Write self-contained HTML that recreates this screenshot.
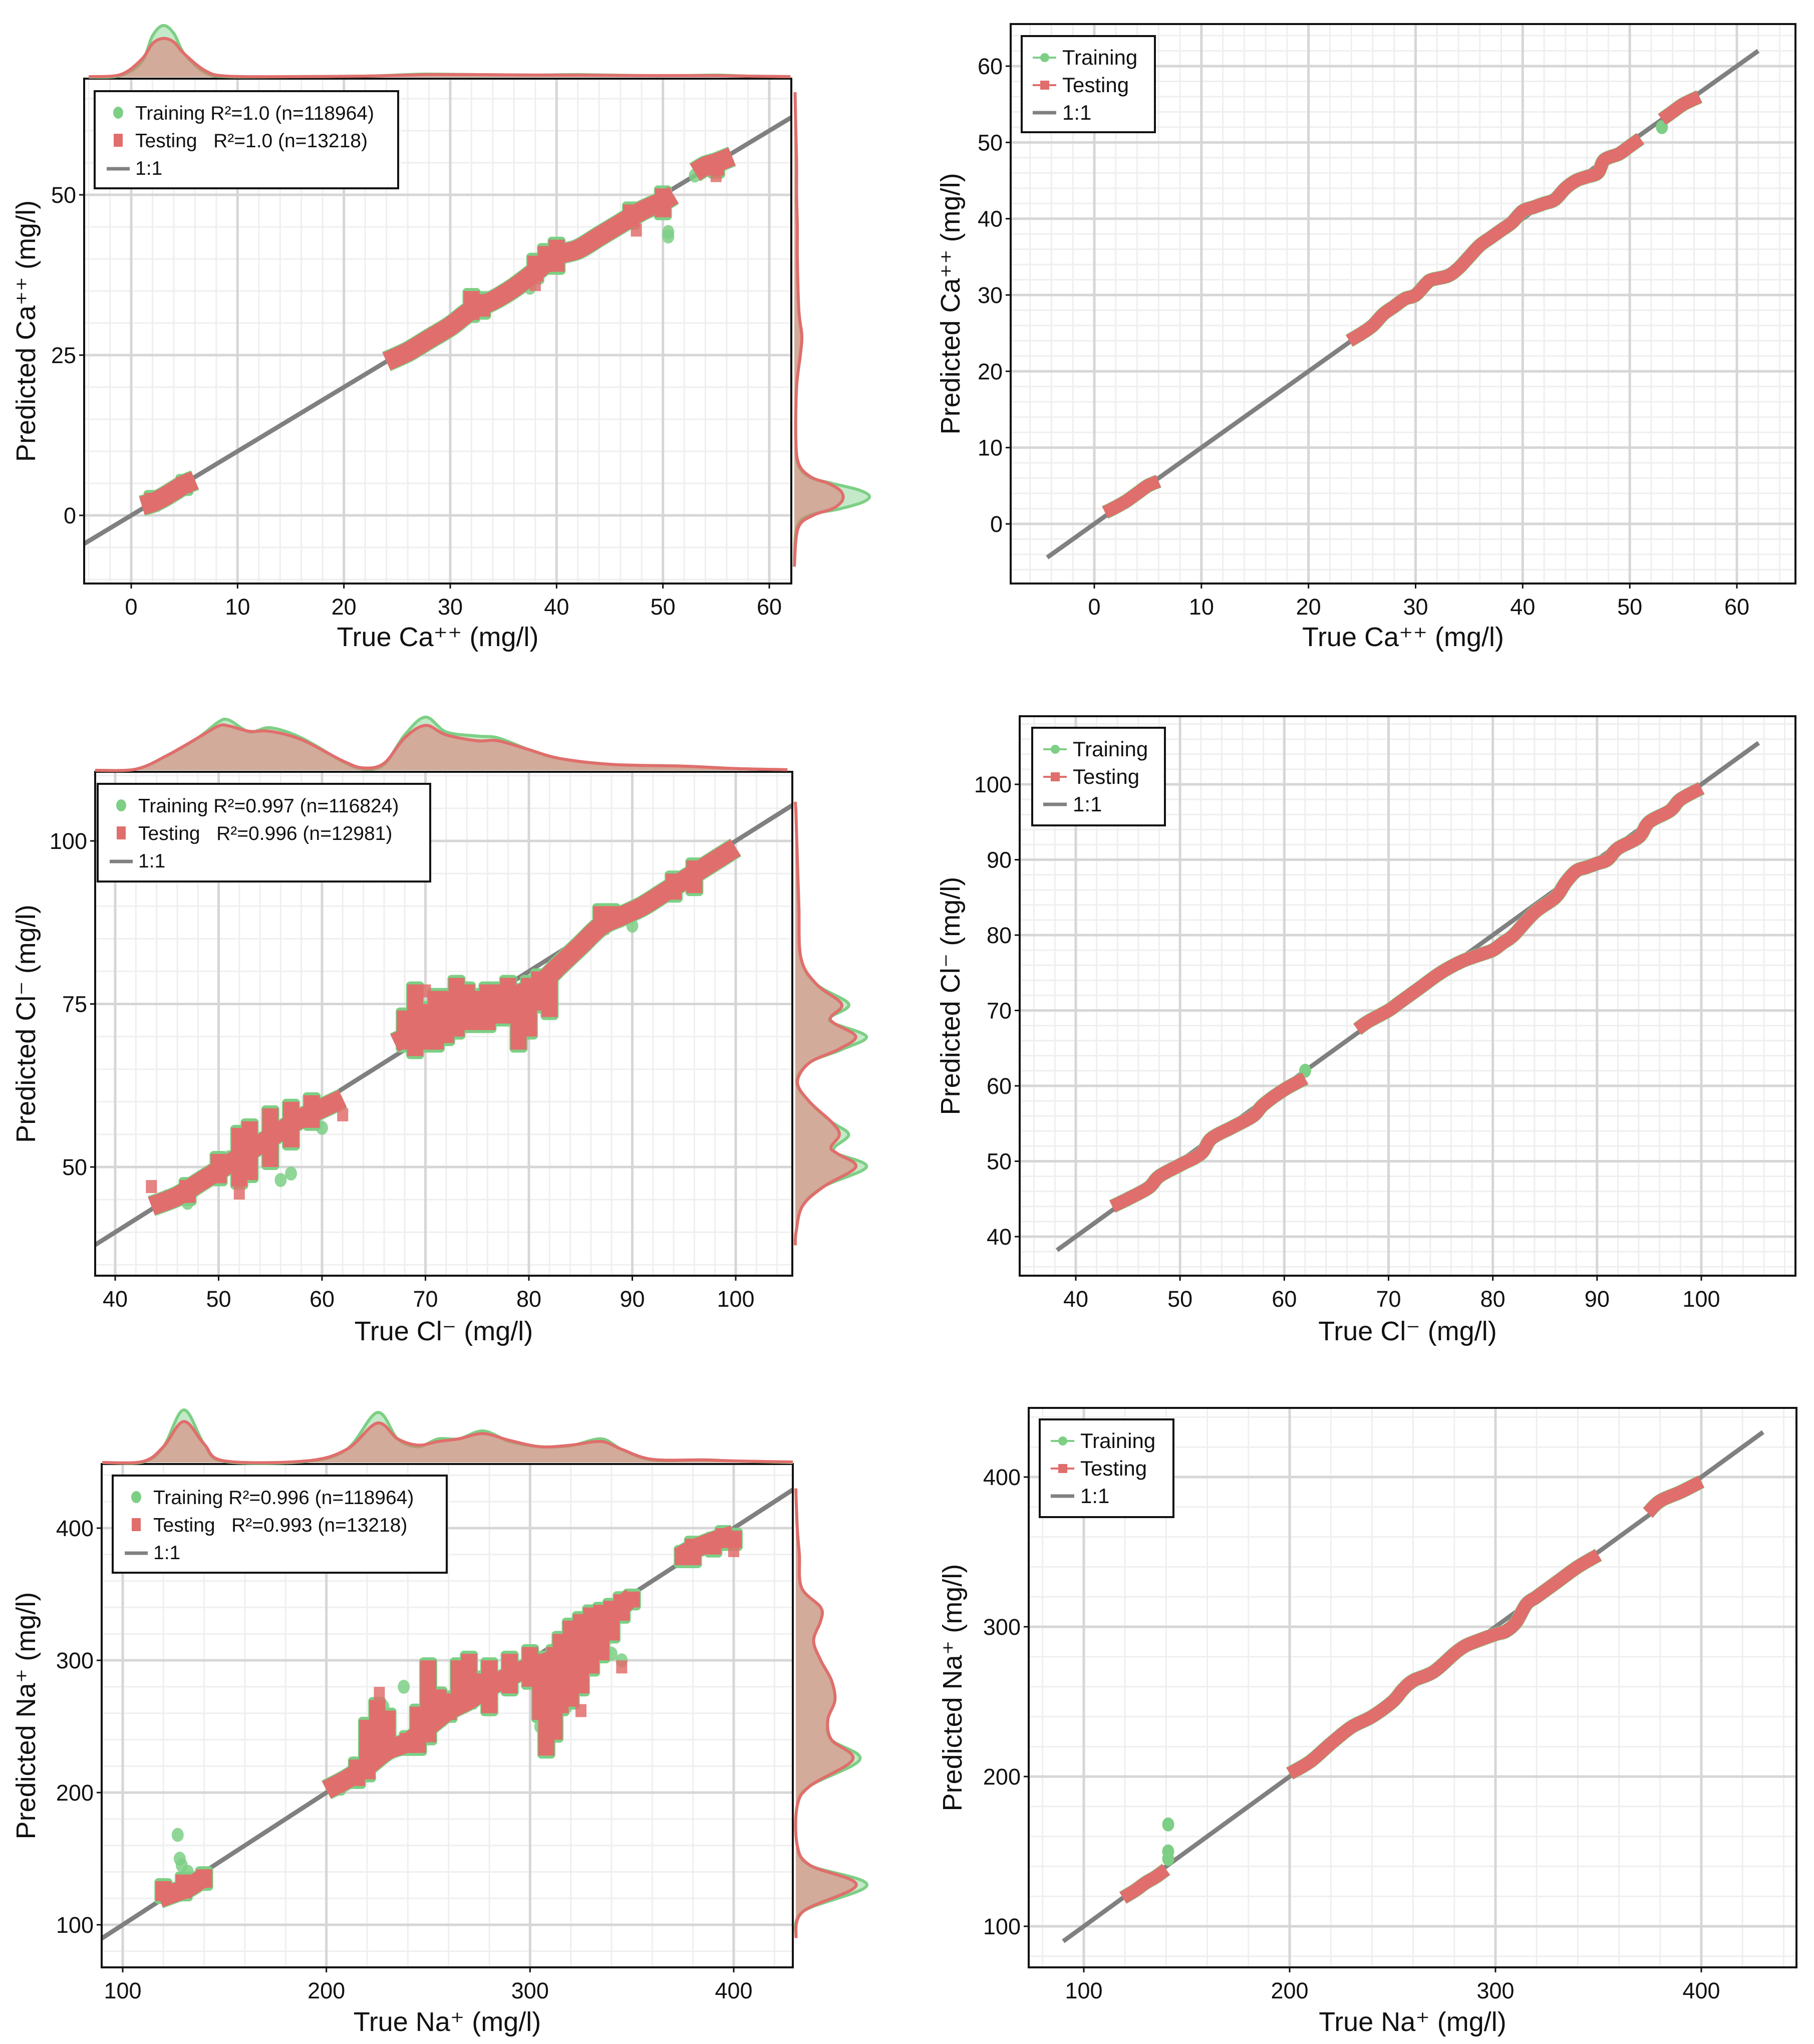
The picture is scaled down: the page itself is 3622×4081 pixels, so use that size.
<!DOCTYPE html>
<html><head><meta charset="utf-8"><style>
html,body{margin:0;padding:0;background:#fff;}
svg{display:block;font-family:"Liberation Sans",sans-serif;}
text{white-space:pre;}
</style></head><body>
<svg id="fig" xmlns="http://www.w3.org/2000/svg" width="3622" height="4081" viewBox="0 0 3622 4081">
<rect x="0" y="0" width="3622" height="4081" fill="#fff"/>
</svg>
<script>
// ---------------- DATA ----------------
const caBandX = [[1,2,3,4,5,6],[24,26,28,30,32,34,36,38,40,42,44,46,48,50,51],[53,54,55,56.5]];
const caBandY = [[1.5,2,2.8,3.8,4.8,5.5],[24,25.5,27.5,29.5,32,33.5,35.5,38,40.5,41.5,43.5,45.5,47.5,49,50],[53.5,54.5,55,56]];
const caSpread = [[2,1,3.5],[5,3.5,6],[32,30.5,35],[33,31,34.5],[38,36.5,40.5],[39,38,42],[40,38,43],[47,45,48.5],[50,46.5,51],[55,53,56]];
const caTrainOut = [[50.5,43.5],[50.5,44.2],[37.5,35.5],[53,53],[45,44],[28,27.5]];
const caTestOut = [[55,53],[47.5,44.5],[38,36]];
const caTopX = [-4,-1,1,2,3,4,5,7,9,15,22,26,28,32,38,42,48,52,55,58,62];
const caTopTrain = [0,0.03,0.3,0.8,1.0,0.85,0.45,0.08,0.01,0.01,0.02,0.05,0.06,0.05,0.04,0.05,0.03,0.03,0.04,0.02,0.01];
const caTopTest = [0.01,0.05,0.35,0.65,0.75,0.68,0.45,0.12,0.02,0.01,0.02,0.04,0.05,0.05,0.04,0.04,0.03,0.03,0.03,0.02,0.01];
const caRightY = [-8,-2,0,1,2,3,4,5,6,8,12,20,25,28,32,40,45,50,55,60,66];
const caRightTrain = [0,0.03,0.2,0.6,0.9,1.0,0.85,0.5,0.2,0.05,0.02,0.03,0.08,0.1,0.06,0.04,0.04,0.03,0.03,0.02,0.01];
const caRightTest = [0,0.05,0.25,0.5,0.62,0.65,0.6,0.45,0.22,0.06,0.02,0.03,0.08,0.1,0.06,0.04,0.04,0.03,0.03,0.02,0.01];
const caLineX = [[1,2,3,4,5,6],[23.8,25,26,27,28,29,30,31,31.5,33,34,35,36,37,38,39,40,41,42,43,44,45,46,47,47.5,48,49,50,51],[53,54,55,56.5]];
const caLineY = [[1.5,2.2,3,4,5,5.6],[24,25,26,27.5,28.5,29.5,30,31.5,32,32.5,33.5,35,36.5,37.5,38.5,39.5,41,41.5,42,42.5,44,45,45.5,46,47.5,48,48.5,49.5,50.5],[53,54,55,56]];
const caLineOut = [[53,52]];

const clBandX = [[43.5,46,48,50,52,54,56,58,60,62],[67,69,71,73,75,77,79,81,83,85,87,89,91,93,95,97,100]];
const clBandY = [[44,45.5,47.5,49.5,51.5,53.5,55.5,57.5,59,60.5],[69,70.5,71.5,73,74.5,75.5,76.5,78,81,84,87,88.5,90,92,94,96,99]];
const clSpread = [[47,44.5,48],[50,47.5,52],[52,47,56],[53,48,57],[55,50,59],[57,53,60],[59,56,61],[68,68,74],[69,67,78],[70,68,75],[71,68,77],[72,69,77],[73,70,79],[74,71,78],[75,71,77],[76,71,78],[77,72,78],[78,72,79],[79,68,77],[80,70,79],[81,74,80],[82,73,80],[87,86,90],[88,87,90],[94,91,95],[96,92,97]];
const clTrainOut = [[45,45.5],[47,44.5],[51,51.5],[52,55],[56,48],[57,49],[60,56],[70,71],[72,74],[82,79],[90,87],[84,82]];
const clTestOut = [[43.5,47],[52,46],[79,70.5],[70,77],[62,58]];
const clTopX = [38,42,45,48,50,51,53,55,58,62,64,66,68,70,72,75,77,80,83,88,95,100,105];
const clTopTrain = [0,0.02,0.25,0.55,0.82,0.85,0.65,0.72,0.55,0.15,0.02,0.1,0.6,0.9,0.65,0.58,0.55,0.35,0.2,0.1,0.07,0.03,0.01];
const clTopTest = [0,0.02,0.25,0.55,0.75,0.75,0.66,0.66,0.52,0.16,0.04,0.12,0.55,0.76,0.6,0.5,0.5,0.35,0.2,0.1,0.07,0.03,0.01];
const clRightY = [38,40,44,47,50,52,53,55,57,60,63,66,68,70,72,73,75,78,82,90,100,104,106];
const clRightTrain = [0,0.01,0.1,0.4,1.0,0.6,0.55,0.75,0.5,0.2,0.02,0.2,0.65,1.0,0.55,0.5,0.75,0.3,0.08,0.05,0.02,0.01,0];
const clRightTest = [0,0.01,0.1,0.4,0.85,0.6,0.5,0.62,0.5,0.2,0.03,0.2,0.6,0.85,0.55,0.5,0.65,0.3,0.08,0.05,0.02,0.01,0];
const clLineX = [[43.5,45,47,48,50,52,53,55,57,58,60,62],[67,68,70,71,73,75,77,79,80,81,82,84,86,87,88,89,90,91,92,94,95,97,98,100]];
const clLineY = [[44,45,46.5,48,49.5,51,53,54.5,56,57.5,59.5,61],[67.5,68.5,70,71,73,75,76.5,77.5,78,79,80,83,85,87,88.5,89,89.5,90,91.5,93,95,96.5,98,99.5]];
const clLineOut = [[62,62]];

const naBandX = [[118,125,132,140],[200,210,220,230,240,250,260,270,280,290,300,310,320,330,340,350],[373,380,390,400]];
const naBandY = [[120,124,128,136],[202,210,220,232,238,250,262,270,280,288,295,300,312,325,335,348],[378,384,390,395]];
const naSpread = [[120,118,133],[130,120,138],[140,128,142],[205,200,208],[215,205,225],[220,210,255],[225,225,270],[230,228,262],[240,230,245],[245,230,265],[250,238,300],[255,252,278],[260,255,275],[265,262,300],[270,265,305],[275,270,290],[280,260,300],[290,275,305],[300,280,310],[305,255,300],[308,228,305],[312,240,310],[315,260,320],[320,265,330],[325,275,335],[330,290,340],[335,300,342],[340,315,345],[345,330,350],[350,340,352],[375,372,385],[380,372,392],[390,380,395],[395,385,400],[400,385,398]];
const naTrainOut = [[127,168],[128,150],[129,145],[132,140],[228,265],[225,245],[318,265],[330,300],[340,305],[345,300],[303,290],[305,250],[307,238],[320,270],[238,280]];
const naTestOut = [[226,275],[325,262],[318,278],[345,295],[400,383]];
const naTopX = [90,110,120,130,140,150,190,210,225,235,245,255,265,277,290,305,320,335,345,360,385,400,430];
const naTopTrain = [0,0.01,0.3,1.0,0.35,0.02,0.02,0.25,0.95,0.45,0.3,0.45,0.45,0.6,0.4,0.3,0.32,0.45,0.25,0.05,0.05,0.03,0];
const naTopTest = [0,0.02,0.3,0.78,0.35,0.03,0.03,0.25,0.75,0.45,0.33,0.4,0.45,0.55,0.42,0.3,0.33,0.4,0.25,0.06,0.05,0.03,0.01];
const naRightY = [90,110,130,145,160,190,205,225,240,255,270,285,300,315,330,340,355,380,400,430];
const naRightTrain = [0,0.1,1.0,0.2,0.02,0.02,0.2,0.9,0.5,0.45,0.55,0.5,0.35,0.25,0.35,0.35,0.08,0.05,0.02,0];
const naRightTest = [0,0.1,0.85,0.2,0.02,0.02,0.2,0.8,0.5,0.45,0.55,0.5,0.35,0.25,0.35,0.35,0.08,0.05,0.02,0];
const naLineX = [[119,125,130,135,140],[200,210,220,230,240,250,255,260,270,280,285,290,300,305,310,315,320,330,340,350],[374,380,390,400]];
const naLineY = [[119,124,129,133,138],[202,210,222,233,240,250,258,264,270,282,287,290,295,297,303,315,320,330,340,348],[376,384,390,397]];
const naLineOut = [[141,168],[141,150],[141,145]];

// ---------------- RENDER ----------------
const NS = "http://www.w3.org/2000/svg";
const svg = document.getElementById('fig');
const GREEN = "#7dcf85", RED = "#e06e6c";
function mk(tag, attrs, parent){ const e=document.createElementNS(NS,tag); for(const k in attrs) e.setAttribute(k,attrs[k]); (parent||svg).appendChild(e); return e; }
function scaler(cal){ const [v0,p0,v1,p1]=cal; return v=>p0+(v-v0)*(p1-p0)/(v1-v0); }
function inv(cal){ const [v0,p0,v1,p1]=cal; return p=>v0+(p-p0)*(v1-v0)/(p1-p0); }
function smooth(pts){
  let d="M"+pts[0][0]+","+pts[0][1];
  for(let i=0;i<pts.length-1;i++){
    const p0=pts[Math.max(0,i-1)],p1=pts[i],p2=pts[i+1],p3=pts[Math.min(pts.length-1,i+2)];
    const c1=[p1[0]+(p2[0]-p0[0])/6,p1[1]+(p2[1]-p0[1])/6], c2=[p2[0]-(p3[0]-p1[0])/6,p2[1]-(p3[1]-p1[1])/6];
    d+=" C"+c1[0]+","+c1[1]+" "+c2[0]+","+c2[1]+" "+p2[0]+","+p2[1];
  }
  return d;
}

function panel(cfg){
  const g = mk('g',{});
  
  
  const [L,T,R,B]=cfg.box;
  const sx=scaler(cfg.xcal), sy=scaler(cfg.ycal);
  const ix=inv(cfg.xcal), iy=inv(cfg.ycal);
  const xmin=ix(L), xmax=ix(R), ymin=iy(B), ymax=iy(T);
  const clipId='clip-'+cfg.name;
  const cp=mk('clipPath',{id:clipId},g); mk('rect',{x:L,y:T,width:R-L,height:B-T},cp);
  const grid=mk('g',{},g);
  
  
  for(let v=Math.ceil(xmin/cfg.xminor)*cfg.xminor; v<=xmax; v+=cfg.xminor){ mk('line',{x1:sx(v),x2:sx(v),y1:T,y2:B,stroke:"#efefef","stroke-width":3},grid); }
  for(let v=Math.ceil(ymin/cfg.yminor)*cfg.yminor; v<=ymax; v+=cfg.yminor){ mk('line',{y1:sy(v),y2:sy(v),x1:L,x2:R,stroke:"#efefef","stroke-width":3},grid); }
  cfg.xticks.forEach(v=>mk('line',{x1:sx(v),x2:sx(v),y1:T,y2:B,stroke:"#d6d6d6","stroke-width":5},grid));
  cfg.yticks.forEach(v=>mk('line',{y1:sy(v),y2:sy(v),x1:L,x2:R,stroke:"#d6d6d6","stroke-width":5},grid));
  const plot=mk('g',{'clip-path':'url(#'+clipId+')'},g);
  const lx0 = cfg.lineExt? cfg.lineExt[0] : xmin, lx1 = cfg.lineExt? cfg.lineExt[1] : xmax;
  const one=mk('line',{x1:sx(lx0),y1:sy(lx0),x2:sx(lx1),y2:sy(lx1),stroke:"#808080","stroke-width":9},plot);
  
  
  if(cfg.kind==='scatter'){
    cfg.trainOut.forEach(p=>{ const c=mk('ellipse',{cx:sx(p[0]),cy:sy(p[1]),rx:12,ry:14,fill:GREEN,opacity:0.85},plot);
      
       });
    cfg.bandX.forEach((xs,i)=>{ const pts=xs.map((x,j)=>[sx(x),sy(cfg.bandY[i][j])]);
      mk('path',{d:smooth(pts),fill:"none",stroke:GREEN,"stroke-width":42,"stroke-linejoin":"round"},plot); });
    cfg.spread.forEach(s=>{ mk('rect',{x:sx(s[0])-18,y:sy(s[2])-6,width:36,height:sy(s[1])-sy(s[2])+12,fill:GREEN,rx:8},plot); });
    cfg.bandX.forEach((xs,i)=>{ const pts=xs.map((x,j)=>[sx(x),sy(cfg.bandY[i][j])]);
      const p=mk('path',{d:smooth(pts),fill:"none",stroke:RED,"stroke-width":38,"stroke-linejoin":"round"},plot);
      
       });
    cfg.spread.forEach(s=>{ const r=mk('rect',{x:sx(s[0])-16,y:sy(s[2]),width:32,height:sy(s[1])-sy(s[2]),fill:RED},plot);
      
       });
    cfg.testOut.forEach(p=>{ const r=mk('rect',{x:sx(p[0])-11,y:sy(p[1])-13,width:22,height:26,fill:RED,opacity:0.85},plot);
      
       });
  } else {
    cfg.out.forEach(p=>{ const c=mk('ellipse',{cx:sx(p[0]),cy:sy(p[1]),rx:12,ry:14,fill:GREEN},plot);
      
       });
    cfg.bandX.forEach((xs,i)=>{ const pts=xs.map((x,j)=>[sx(x),sy(cfg.bandY[i][j])]);
      mk('path',{d:smooth(pts),fill:"none",stroke:GREEN,"stroke-width":28,"stroke-linejoin":"round"},plot); });
    cfg.bandX.forEach((xs,i)=>{ const pts=xs.map((x,j)=>[sx(x),sy(cfg.bandY[i][j])]);
      const p=mk('path',{d:smooth(pts),fill:"none",stroke:RED,"stroke-width":26,"stroke-linejoin":"round"},plot);
      
       });
  }
  mk('rect',{x:L,y:T,width:R-L,height:B-T,fill:"none",stroke:"#111","stroke-width":4},g);
  cfg.xticks.forEach(v=>{ mk('line',{x1:sx(v),x2:sx(v),y1:B,y2:B+10,stroke:"#111","stroke-width":3},g);
    const t=mk('text',{x:sx(v),y:B+62,"font-size":45,"text-anchor":"middle",fill:"#111"},g); t.textContent=v;
    
     });
  cfg.yticks.forEach(v=>{ mk('line',{x1:L-10,x2:L,y1:sy(v),y2:sy(v),stroke:"#111","stroke-width":3},g);
    const t=mk('text',{x:L-16,y:sy(v)+16,"font-size":45,"text-anchor":"end",fill:"#111"},g); t.textContent=v;
    
     });
  const xt=mk('text',{x:(L+R)/2,y:cfg.xlabY,"font-size":54,"text-anchor":"middle",fill:"#111"},g); xt.textContent=cfg.xlabel;
  
  
  const yt=mk('text',{x:0,y:0,"font-size":54,"text-anchor":"middle",fill:"#111",transform:`translate(${cfg.ylabX},${(T+B)/2}) rotate(-90)`},g); yt.textContent=cfg.ylabel;
  
  
  if(cfg.top){
    const mg=mk('g',{},g);
    
    
    const base=T-3;
    [[cfg.top.train,GREEN,0.45],[cfg.top.test,RED,0.5]].forEach(([vals,col,op])=>{
      const pts=cfg.top.x.map((x,i)=>[Math.max(L,Math.min(R,sx(x))),base-vals[i]*cfg.top.scale]);
      const d=smooth(pts);
      mk('path',{d:d+` L${pts[pts.length-1][0]},${base} L${pts[0][0]},${base} Z`,fill:col,"fill-opacity":op,stroke:"none"},mg);
      mk('path',{d:d,fill:"none",stroke:col,"stroke-width":6},mg);
    });
    const rg=mk('g',{},g);
    
    
    const rb=R+6;
    [[cfg.right.train,GREEN,0.45],[cfg.right.test,RED,0.5]].forEach(([vals,col,op])=>{
      const pts=cfg.right.y.map((y,i)=>[rb+vals[i]*cfg.right.scale,sy(y)]);
      const d=smooth(pts);
      mk('path',{d:d+` L${rb},${pts[pts.length-1][1]} L${rb},${pts[0][1]} Z`,fill:col,"fill-opacity":op,stroke:"none"},rg);
      mk('path',{d:d,fill:"none",stroke:col,"stroke-width":6},rg);
    });
  }
  const [lx,ly,lw,lh]=cfg.legend;
  const lg=mk('g',{},g);
  
  
  mk('rect',{x:lx,y:ly,width:lw,height:lh,fill:"#fff",stroke:"#111","stroke-width":4},lg);
  const rows=[[cfg.legTrain,'train'],[cfg.legTest,'test'],['1:1','line']];
  rows.forEach(([label,kind],i)=>{
    const by=ly+57+i*55, cy=by-14;
    if(cfg.kind==='scatter'){
      if(kind==='train') mk('ellipse',{cx:lx+47,cy:cy,rx:10,ry:12,fill:GREEN},lg);
      if(kind==='test') mk('rect',{x:lx+38,y:cy-13,width:18,height:26,fill:RED},lg);
      if(kind==='line') mk('line',{x1:lx+24,x2:lx+70,y1:cy+2,y2:cy+2,stroke:"#808080","stroke-width":7},lg);
    } else {
      const col = kind==='train'?GREEN:kind==='test'?RED:"#808080";
      mk('line',{x1:lx+22,x2:lx+69,y1:cy,y2:cy,stroke:col,"stroke-width":kind==='line'?7:4},lg);
      if(kind==='train') mk('circle',{cx:lx+46,cy:cy,r:9,fill:GREEN},lg);
      if(kind==='test') mk('rect',{x:lx+37,y:cy-9,width:18,height:18,fill:RED},lg);
    }
    const t=mk('text',{x:lx+81,y:by,"font-size":cfg.kind==='scatter'?39:42,fill:"#111"},lg);
    t.textContent=label;
    
    
  });
}

panel({name:'ca-scatter',kind:'scatter',box:[168,157,1580,1165],xcal:[0,262,60,1536],ycal:[0,1029,50,389],
  xticks:[0,10,20,30,40,50,60],yticks:[0,25,50],xminor:2,yminor:5,
  bandX:caBandX,bandY:caBandY,spread:caSpread,trainOut:caTrainOut,testOut:caTestOut,
  top:{x:caTopX,train:caTopTrain,test:caTopTest,scale:103},right:{y:caRightY,train:caRightTrain,test:caRightTest,scale:150},
  xlabel:'True Ca⁺⁺ (mg/l)',ylabel:'Predicted Ca⁺⁺ (mg/l)',xlabY:1290,ylabX:70,
  legend:[189,182,606,194],legTrain:'Training R²=1.0 (n=118964)',legTest:'Testing   R²=1.0 (n=13218)'});
panel({name:'ca-line',kind:'line',box:[2018,48,3585,1165],xcal:[0,2185,60,3468],ycal:[0,1046,60,132],
  xticks:[0,10,20,30,40,50,60],yticks:[0,10,20,30,40,50,60],xminor:2,yminor:2,lineExt:[-4.4,62],
  bandX:caLineX,bandY:caLineY,out:caLineOut,
  xlabel:'True Ca⁺⁺ (mg/l)',ylabel:'Predicted Ca⁺⁺ (mg/l)',xlabY:1290,ylabX:1916,
  legend:[2040,72,266,192],legTrain:'Training',legTest:'Testing'});
panel({name:'cl-scatter',kind:'scatter',box:[190,1541,1582,2547],xcal:[40,230,100,1469],ycal:[50,2330,100,1679],
  xticks:[40,50,60,70,80,90,100],yticks:[50,75,100],xminor:2,yminor:5,
  bandX:clBandX,bandY:clBandY,spread:clSpread,trainOut:clTrainOut,testOut:clTestOut,
  top:{x:clTopX,train:clTopTrain,test:clTopTest,scale:118},right:{y:clRightY,train:clRightTrain,test:clRightTest,scale:142},
  xlabel:'True Cl⁻ (mg/l)',ylabel:'Predicted Cl⁻ (mg/l)',xlabY:2676,ylabX:70,
  legend:[195,1565,664,195],legTrain:'Training R²=0.997 (n=116824)',legTest:'Testing   R²=0.996 (n=12981)'});
panel({name:'cl-line',kind:'line',box:[2036,1430,3585,2547],xcal:[40,2148,100,3397],ycal:[40,2469,100,1566],
  xticks:[40,50,60,70,80,90,100],yticks:[40,50,60,70,80,90,100],xminor:2,yminor:2,lineExt:[38.2,105.5],
  bandX:clLineX,bandY:clLineY,out:clLineOut,
  xlabel:'True Cl⁻ (mg/l)',ylabel:'Predicted Cl⁻ (mg/l)',xlabY:2676,ylabX:1916,
  legend:[2061,1453,265,195],legTrain:'Training',legTest:'Testing'});
panel({name:'na-scatter',kind:'scatter',box:[203,2923,1583,3928],xcal:[100,245,400,1465],ycal:[100,3843,400,3051],
  xticks:[100,200,300,400],yticks:[100,200,300,400],xminor:20,yminor:20,
  bandX:naBandX,bandY:naBandY,spread:naSpread,trainOut:naTrainOut,testOut:naTestOut,
  top:{x:naTopX,train:naTopTrain,test:naTopTest,scale:105},right:{y:naRightY,train:naRightTrain,test:naRightTest,scale:142},
  xlabel:'True Na⁺ (mg/l)',ylabel:'Predicted Na⁺ (mg/l)',xlabY:4055,ylabX:70,
  legend:[225,2946,667,194],legTrain:'Training R²=0.996 (n=118964)',legTest:'Testing   R²=0.993 (n=13218)'});
panel({name:'na-line',kind:'line',box:[2054,2811,3587,3928],xcal:[100,2164,400,3397],ycal:[100,3846,400,2949],
  xticks:[100,200,300,400],yticks:[100,200,300,400],xminor:20,yminor:20,lineExt:[90,430],
  bandX:naLineX,bandY:naLineY,out:naLineOut,
  xlabel:'True Na⁺ (mg/l)',ylabel:'Predicted Na⁺ (mg/l)',xlabY:4055,ylabX:1920,
  legend:[2076,2834,267,195],legTrain:'Training',legTest:'Testing'});
</script>
</body></html>
